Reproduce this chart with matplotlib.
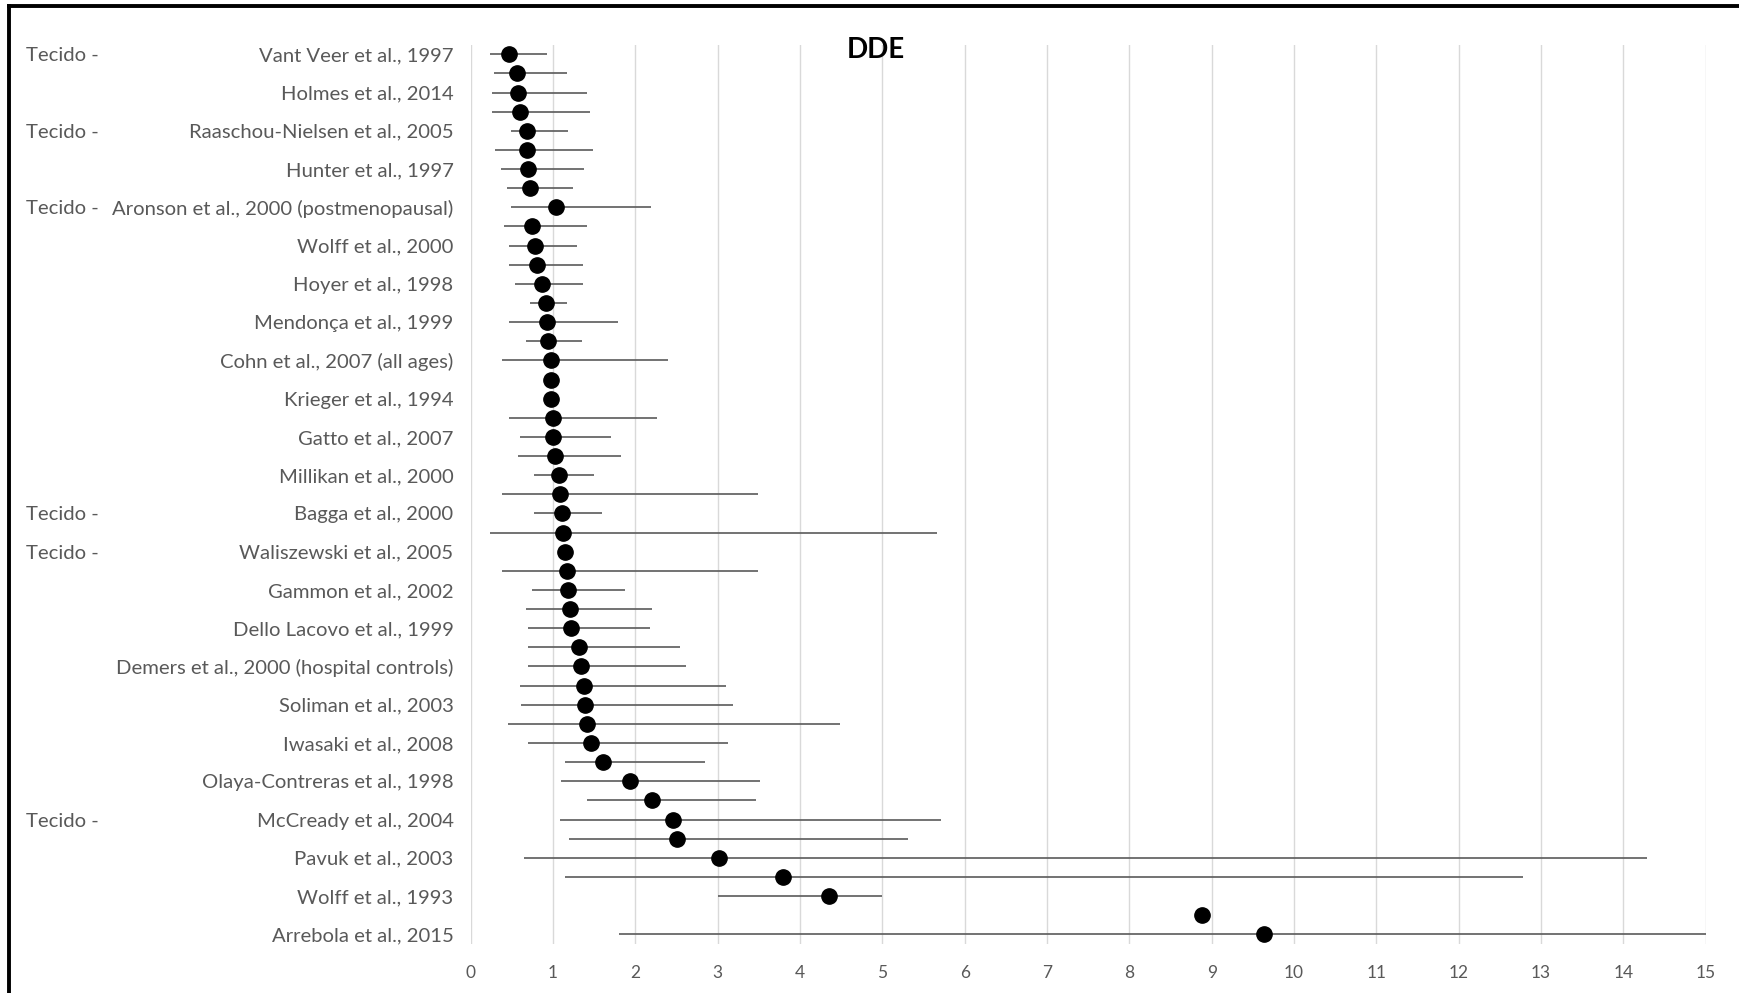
import numpy as np
import matplotlib
matplotlib.use("Agg")
import matplotlib.pyplot as plt
import matplotlib.transforms as mtransforms
from matplotlib.lines import Line2D

plt.rcParams['font.family'] = ['Lato', 'DejaVu Sans']

# ---- data -------------------------------------------------------------
# visible category labels (Excel shows every second category)
labels = [
    "Vant Veer et al., 1997", "Holmes et al., 2014", "Raaschou-Nielsen et al., 2005",
    "Hunter et al., 1997", "Aronson et al., 2000 (postmenopausal)", "Wolff et al., 2000",
    "Hoyer et al., 1998", "Mendonça et al., 1999", "Cohn et al., 2007 (all ages)",
    "Krieger et al., 1994", "Gatto et al., 2007", "Millikan et al., 2000",
    "Bagga et al., 2000", "Waliszewski et al., 2005", "Gammon et al., 2002",
    "Dello Lacovo et al., 1999", "Demers et al., 2000 (hospital controls)",
    "Soliman et al., 2003", "Iwasaki et al., 2008", "Olaya-Contreras et al., 1998",
    "McCready et al., 2004", "Pavuk et al., 2003", "Wolff et al., 1993",
    "Arrebola et al., 2015",
]
tecido_studies = [
    "Vant Veer et al., 1997", "Raaschou-Nielsen et al., 2005",
    "Aronson et al., 2000 (postmenopausal)", "Bagga et al., 2000",
    "Waliszewski et al., 2005", "McCready et al., 2004",
]
tecido_text = "Tecido -"
title = "DDE"

odds_ratio = [0.46, 0.56, 0.58, 0.60, 0.68, 0.68, 0.70, 0.72, 1.03, 0.74,
              0.78, 0.80, 0.86, 0.91, 0.93, 0.94, 0.98, 0.98, 0.98, 1.00,
              1.00, 1.02, 1.07, 1.08, 1.11, 1.12, 1.15, 1.17, 1.18, 1.20,
              1.22, 1.32, 1.34, 1.38, 1.39, 1.41, 1.46, 1.61, 1.93, 2.20,
              2.46, 2.50, 3.02, 3.79, 4.35, 8.88, 9.64]
ci_low = [0.24, 0.28, 0.26, 0.26, 0.49, 0.29, 0.37, 0.44, 0.49, 0.40,
          0.47, 0.47, 0.54, 0.72, 0.47, 0.67, 0.38, None, None, 0.46,
          0.60, 0.57, 0.77, 0.38, 0.77, 0.23, None, 0.38, 0.75, 0.67,
          0.69, 0.70, 0.70, 0.60, 0.61, 0.45, 0.69, 1.14, 1.10, 1.41,
          1.09, 1.19, 0.65, 1.14, 3.00, None, 1.80]
ci_high = [0.93, 1.17, 1.41, 1.45, 1.18, 1.49, 1.38, 1.24, 2.19, 1.41,
           1.29, 1.36, 1.37, 1.17, 1.79, 1.35, 2.40, None, None, 2.26,
           1.71, 1.83, 1.50, 3.49, 1.59, 5.66, None, 3.49, 1.88, 2.20,
           2.18, 2.54, 2.61, 3.10, 3.19, 4.48, 3.12, 2.85, 3.51, 3.47,
           5.71, 5.31, 14.29, 12.78, 5.00, None, 15.0]
x_ticks = list(range(0, 16))

# ---- figure -----------------------------------------------------------
W, H = 1739, 993
fig = plt.figure(figsize=(W / 100, H / 100), dpi=100)
left, right = 470.7 / W, 1705.7 / W
top, bottom = 1 - 44.7 / H, 1 - 943.9 / H
ax = fig.add_axes([left, bottom, right - left, top - bottom])

n = len(odds_ratio)
y = np.arange(n)
lo = np.array([np.nan if v is None else v for v in ci_low], dtype=float)
hi = np.array([np.nan if v is None else v for v in ci_high], dtype=float)
has = ~np.isnan(lo)

ax.hlines(y[has], lo[has], hi[has], color='#606060', lw=1.25, zorder=2)
ax.plot(odds_ratio, y, 'o', color='black', ms=11, zorder=3, clip_on=False)

ax.set_xlim(x_ticks[0], x_ticks[-1])
ax.set_ylim(n - 0.5, -0.5)
ax.set_xticks(x_ticks)
ax.set_xticklabels([str(t) for t in x_ticks])
ax.grid(axis='x', color='#d9d9d9', lw=1)
ax.grid(axis='y', visible=False)
ax.set_axisbelow(True)
for s in ax.spines.values():
    s.set_visible(False)

ax.set_yticks(y[::2])
ax.set_yticklabels(labels)
ax.tick_params(axis='y', length=0, pad=12.3, labelsize=14.6, labelcolor='#595959')
ax.tick_params(axis='x', length=0, pad=15, labelsize=12.5, labelcolor='#595959')

trans = mtransforms.blended_transform_factory(fig.transFigure, ax.transData)
for s in tecido_studies:
    row = labels.index(s) * 2
    fig.text(26 / W, row, tecido_text, transform=trans, ha='left',
             va='center_baseline', fontsize=14.6, color='#595959')

fig.text(876 / W, 1 - 50.5 / H, title, ha='center', va='center',
         fontsize=20, fontweight='bold', color='black')

# outer frame (left and top edges visible)
fig.add_artist(Line2D([9 / W, 9 / W], [0, 1 - 6 / H], transform=fig.transFigure,
                      color='black', lw=2.8))
fig.add_artist(Line2D([9 / W, 1], [1 - 6 / H, 1 - 6 / H], transform=fig.transFigure,
                      color='black', lw=2.8))

fig.savefig("out.png", dpi=100, facecolor='white')
